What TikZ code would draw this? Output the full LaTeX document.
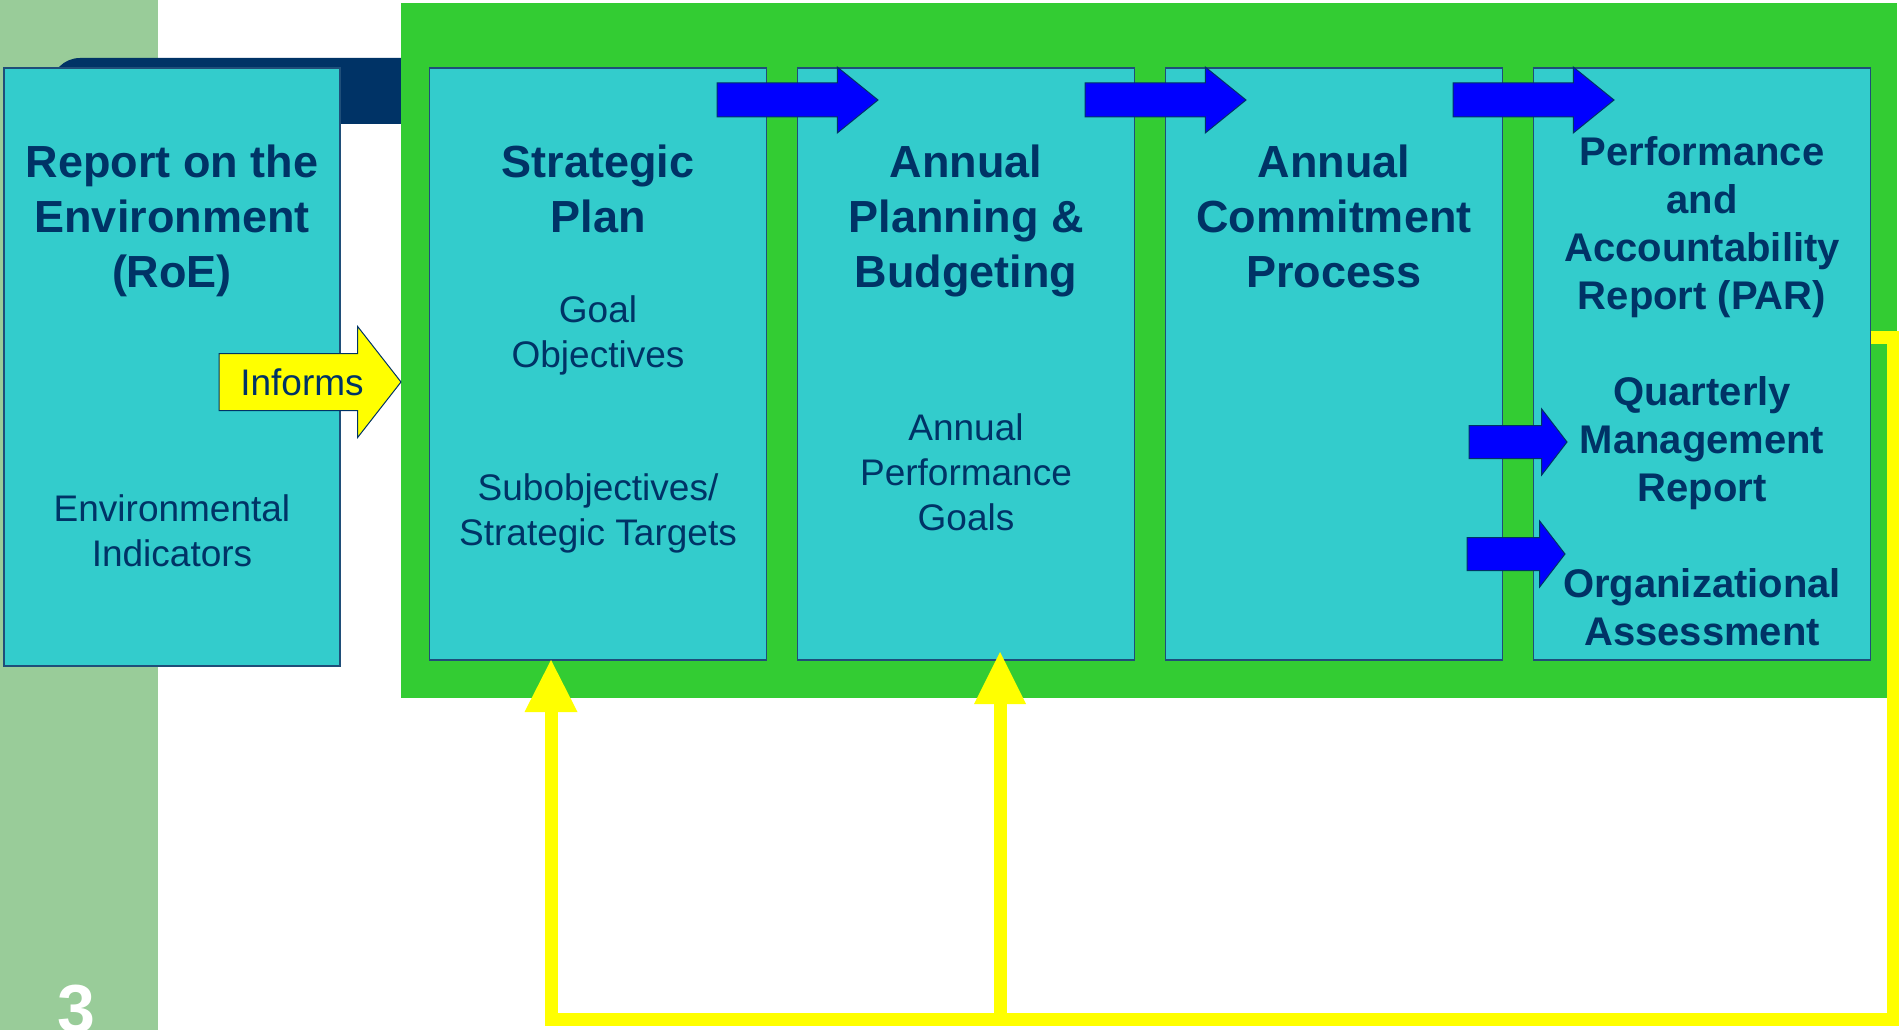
\documentclass[tikz,border=0pt]{standalone}
\usepackage{fontspec}
\setmainfont{Liberation Sans}
\usetikzlibrary{positioning, shapes.arrows, arrows.meta}

\begin{document}
\begin{tikzpicture}[x=1pt, y=-1pt, line join=miter]
%====Definizione colori particolari===============================================================
	\definecolor{salvia}{RGB}{153,204,153}
	\definecolor{notte}{RGB}{0,51,102}
	\definecolor{verde}{RGB}{51,204,51}
	\definecolor{ciano}{RGB}{51,204,204}
	\definecolor{bordo}{RGB}{31,78,121}
	\definecolor{blu}{RGB}{0,0,255}
	\definecolor{giallo}{RGB}{255,255,0}
%====Definizione stili===============================================================
	\tikzstyle{fase}=[rectangle, fill=ciano, draw=bordo, line width=1.5pt, inner sep=0pt, outer sep=0pt, minimum width=337pt, minimum height=592pt]
	\tikzstyle{passo}=[single arrow, fill=blu, draw=notte, line width=1pt, inner xsep=0pt, inner ysep=16.5pt, outer sep=0pt, minimum height=161pt, minimum width=65pt, single arrow head extend=16pt, single arrow tip angle=78, anchor=tail]
	\tikzstyle{uscita}=[passo, minimum height=98pt, single arrow head extend=16.5pt, inner ysep=16pt, single arrow tip angle=105]
	\tikzstyle{titolo}=[text=notte, font=\fontsize{45}{55}\selectfont\bfseries, align=center, inner sep=0pt]
	\tikzstyle{report}=[titolo, font=\fontsize{40}{48}\selectfont\bfseries]
	\tikzstyle{voce}=[titolo, font=\fontsize{37}{45}\selectfont]
	\tikzstyle{ritorno}=[draw=giallo, line width=13pt]
%====Sfondo===============================================================
	\useasboundingbox (0,0) rectangle (1899,1030);
	\fill[salvia] (0,0) rectangle (158,1030);
	\fill[notte, rounded corners=29pt] (51,58) rectangle (430,124);
	\fill[verde] (401,3) rectangle (1897,698);
%====Definizione fasi e posizione===============================================================
	\node[fase, minimum width=336pt, minimum height=598pt] 	(roe) at (172,367)		{};
	\node[fase] 	(sp) at (598,364)		{};
	\node[fase]		(pb) [right=31pt of sp]		{};
	\node[fase]		(cp) [right=31pt of pb]		{};
	\node[fase]		(par) [right=31pt of cp]		{};
%====Frecce blu e freccia gialla===============================================================
	\node[passo]	(a1) at (717,100)	{};
	\node[passo]	(a2) at (1085,100)	{};
	\node[passo]	(a3) at (1453,100)	{};
	\node[uscita]	(aq) at (1469,442)	{};
	\node[uscita]	(ao) at (1467,554)	{};
	\node[passo, fill=giallo, minimum height=182pt, minimum width=110pt, inner ysep=28pt, single arrow head extend=27pt, single arrow tip angle=104]	(ainf) at (219,382)	{};
	\node[voce, anchor=base]	(inf) at (302,395)	{Informs};
%====Testi===============================================================
	\node[titolo]	(t_roe) [below=70.5pt of roe.north]	{\strut Report on the\\Environment\\(RoE)};
	\node[voce]		(v_roe) [below=421.5pt of roe.north]	{\strut Environmental\\Indicators};
	\node[titolo]	(t_sp) [below=70.5pt of sp.north]	{\strut Strategic\\Plan};
	\node[voce]		(v_sp1) [below=222.5pt of sp.north]	{\strut Goal\\Objectives};
	\node[voce]		(v_sp2) [below=401pt of sp.north]	{\strut Subobjectives/\\Strategic Targets};
	\node[titolo]	(t_pb) [below=70.5pt of pb.north]	{\strut Annual\\Planning \&\\Budgeting};
	\node[voce]		(v_pb) [below=340.5pt of pb.north]	{\strut Annual\\Performance\\Goals};
	\node[titolo]	(t_cp) [below=70.5pt of cp.north]	{\strut Annual\\Commitment\\Process};
	\node[report]	(t_par) [below=63.4pt of par.north]	{\strut Performance\\and\\Accountability\\Report (PAR)};
	\node[report]	(t_qmr) [below=303.4pt of par.north]	{\strut Quarterly\\Management\\Report};
	\node[report]	(t_oa) [below=495.4pt of par.north]	{\strut Organizational\\Assessment};
	\node[text=white, font=\fontsize{68}{80}\selectfont\bfseries, inner sep=0pt, anchor=base]	(pagina) at (76,1032)	{3};
%====Ritorno giallo===============================================================
	\coordinate (gA) at (1893,337.5);
	\coordinate (gB) at (1893,1019);
	\coordinate (r1) at (551,1019);
	\coordinate (r2) at (1000,1019);
	\draw[ritorno, -{Triangle[width=53pt, length=52pt, line width=0pt]}]	(gA -| par.east) -- (gA) -- (gB) -- (r1) -- (r1 |- sp.south);
	\draw[ritorno, -{Triangle[width=52pt, length=52pt, line width=0pt]}, shorten >=-8pt]	(r2) -- (r2 |- pb.south);
\end{tikzpicture}
\end{document}
